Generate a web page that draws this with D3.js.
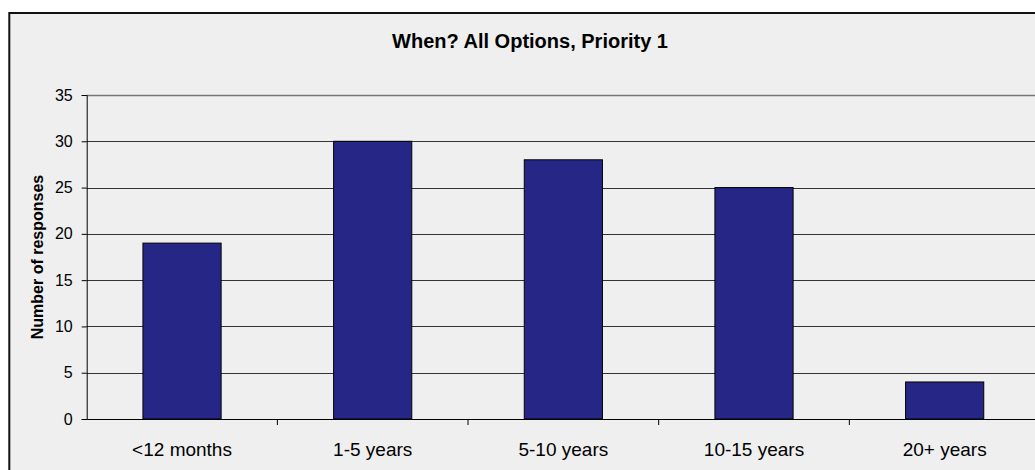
<!DOCTYPE html>
<html><head><meta charset="utf-8">
<script src="https://cdn.jsdelivr.net/npm/d3@7"></script>
<style>
html,body{margin:0;padding:0;background:#fff;}
svg{display:block;font-family:"Liberation Sans",Arial,sans-serif;}
</style></head>
<body>
<svg id="c" width="1035" height="470"></svg>
<script>
const categories = ["<12 months","1-5 years","5-10 years","10-15 years","20+ years"];
const values = [19, 30, 28, 25, 4];
const yTicks = [0,5,10,15,20,25,30,35];
const title = "When? All Options, Priority 1";
const yLabel = "Number of responses";

(function(){
const FF = "Liberation Sans, Arial, sans-serif";
const svg = d3.select("#c");
svg.append("rect").attr("x",9.3).attr("y",13).attr("width",1040).attr("height",470)
  .attr("fill","#efefef").attr("stroke","#111").attr("stroke-width",2);

const pLeft = 86.7, pRight = 1040, pTop = 95, pBottom = 419;
const x = d3.scaleBand().domain(categories).range([pLeft, pRight]).paddingInner(0).paddingOuter(0);
const y = d3.scaleLinear().domain([0,35]).range([pBottom, pTop]);

svg.append("g").selectAll("line").data(yTicks.filter(d=>d>0)).join("line")
  .attr("x1",pLeft).attr("x2",1035).attr("y1",d=>Math.round(y(d))+0.5).attr("y2",d=>Math.round(y(d))+0.5)
  .attr("stroke",d=>d===35?"#777":"#333").attr("stroke-width",d=>d===35?1.5:1);

const bw = x.bandwidth()*0.41;
svg.append("g").selectAll("rect").data(values).join("rect")
  .attr("x",(d,i)=>x(categories[i])+x.bandwidth()/2-bw/2)
  .attr("y",d=>y(d))
  .attr("width",bw)
  .attr("height",d=>pBottom-y(d))
  .attr("fill","#262686").attr("stroke","#000").attr("stroke-width",1);

const yAxis = d3.axisLeft(y).tickValues(yTicks).tickSize(5).tickPadding(9);
const gy = svg.append("g").attr("transform",`translate(${pLeft},0)`).call(yAxis);
gy.select(".domain").attr("stroke","#000");
gy.selectAll(".tick line").attr("stroke","#000");
gy.selectAll("text").attr("font-size",16).attr("fill","#000").attr("font-family",FF);

const xAxis = d3.axisBottom(x).tickSize(0).tickPadding(23.5);
const gx = svg.append("g").attr("transform",`translate(0,${pBottom})`).call(xAxis);
gx.select(".domain").attr("stroke","#000");
gx.selectAll("text").attr("font-size",19).attr("fill","#000").attr("font-family",FF);
svg.append("g").selectAll("line").data(categories.slice(1)).join("line")
  .attr("x1",d=>x(d)).attr("x2",d=>x(d)).attr("y1",pBottom).attr("y2",pBottom+6)
  .attr("stroke","#000");

svg.append("text").attr("x",530).attr("y",48).attr("text-anchor","middle")
  .attr("font-weight","bold").attr("font-size",20).attr("font-family",FF).text(title);

svg.append("text").attr("transform","translate(43,257) rotate(-90)").attr("text-anchor","middle")
  .attr("font-weight","bold").attr("font-size",16).attr("font-family",FF).text(yLabel);
})();
</script>
</body></html>
